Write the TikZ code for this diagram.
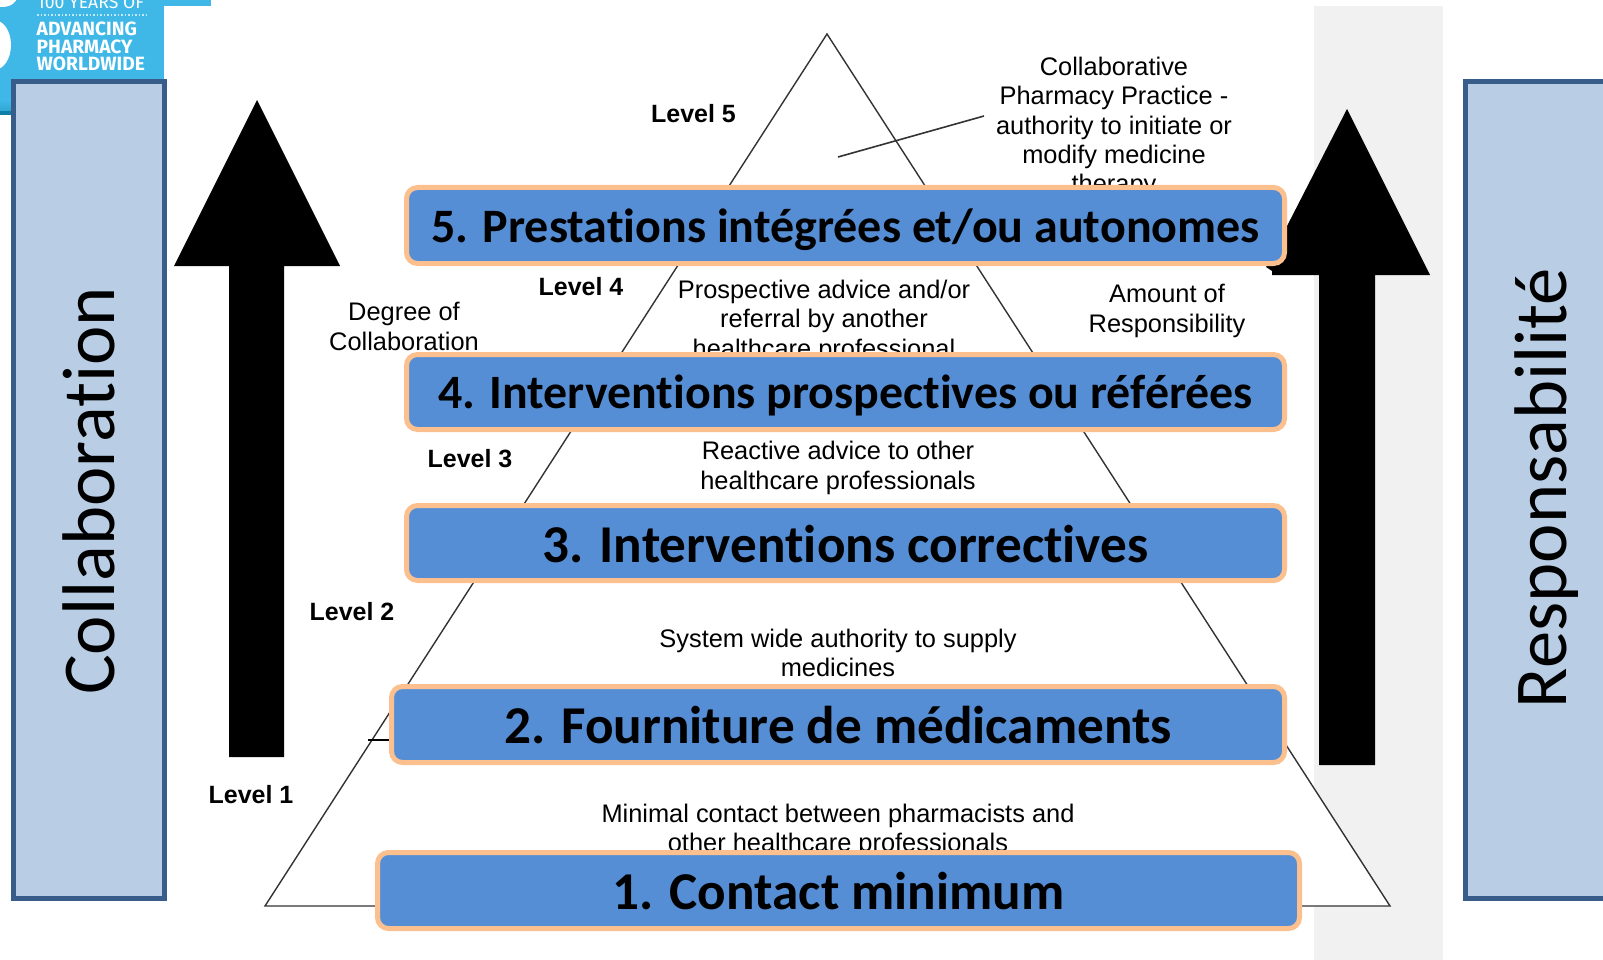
\documentclass[tikz,border=0pt]{standalone}
\usepackage{fontspec}
\setmainfont{Liberation Sans}
\newfontfamily\carl[Ligatures=NoCommon]{Carlito}
\newfontfamily\fira{Fira Sans}
\definecolor{boxfill}{HTML}{558ED5}
\definecolor{boxedge}{HTML}{FCBF8E}
\definecolor{sidefill}{HTML}{B9CDE5}
\definecolor{sideedge}{HTML}{385D8A}
\definecolor{logo}{HTML}{3FB8E8}
\definecolor{logodark}{HTML}{0B7FA6}
\definecolor{band}{HTML}{F1F1F1}
\definecolor{pline}{HTML}{333333}
\tikzset{
  levelbox/.style={draw=boxedge,fill=boxfill,line width=5pt,rounded corners=11pt,inner sep=0pt,anchor=base,text=black,
    font=\carl\bfseries\fontsize{#1}{50}\selectfont},
  sidebox/.style={draw=sideedge,fill=sidefill,line width=5pt},
  sidelabel/.style={rotate=90,anchor=base,inner sep=0pt,text=black,font=\carl\fontsize{74.6}{80}\selectfont},
  levellabel/.style={anchor=base,inner sep=0pt,font=\bfseries\fontsize{25}{29}\selectfont},
  note/.style={anchor=base,inner sep=0pt,align=center,font=\fontsize{25.4}{29.4}\selectfont},
  pyr/.style={draw=pline,line width=1.4pt},
  logotext/.style={anchor=base west,inner sep=0pt,text=white,font=\fira\bfseries\fontsize{19.2}{19}\selectfont},
}
\begin{document}
\begin{tikzpicture}[x=1pt,y=-1pt]
\useasboundingbox (0,0) rectangle (1603,960);
% logo
\begin{scope}
\clip (0,0) rectangle (1603,960);
\fill[logo] (0,0) rectangle (164,103);
\fill[logo] (164,0) rectangle (211,6);
\shade[top color=logo,bottom color=logo!70!logodark] (0,100) rectangle (164,111);
\fill[logodark] (0,111) rectangle (20,115);
\fill[white] (-6,45) ellipse [x radius=17pt,y radius=25pt];
\fill[white] (2,-3) ellipse [x radius=15pt,y radius=10pt];
\node[logotext,font=\fira\fontsize{17.6}{17}\selectfont] (l0) at (37,9) {100 YEARS OF};
\draw[white,opacity=.7,line width=1.5pt,dotted] (37,15) -- (146,15);
\node[logotext] (l1) at (36.5,35.5) {ADVANCING};
\node[logotext] (l2) at (36.5,53.5) {PHARMACY};
\node[logotext] (l3) at (36.5,70.5) {WORLDWIDE};
% grey band
\fill[band] (1314,6) rectangle (1443,960);
% pyramid
\draw[pyr,fill=white] (827,34) coordinate (apex) -- (1390,906) coordinate (br) -- (265,906) coordinate (bl) -- cycle;
\draw[pyr,line width=1.6pt] (838,157) coordinate (c1) -- (984,116) coordinate (c2);
\draw[pyr,draw=black] (368,740) coordinate (t1) -- (392,740) coordinate (t2);
% side boxes
\node[sidebox,minimum width=0pt,inner sep=0pt] (leftbox) at (89,490) {\rule{0pt}{817pt}\rule{151pt}{0pt}};
\fill[sidefill] (1465.5,81.5) rectangle (1610,898.5);
\draw[sideedge,line width=5pt] (1610,81.5) -- (1465.5,81.5) -- (1465.5,898.5) -- (1610,898.5);
\node[sidelabel] (collab) at (114.5,491) {Collaboration};
\node[sidelabel] (resp) at (1566,488) {Responsabilité};
% big arrows
\fill[black] (257,100) -- (340,266) -- (284,266) -- (284,757) -- (229,757) -- (229,266) -- (174,266) -- cycle;
\fill[black] (1347,109) -- (1430,275) -- (1375,275) -- (1375,765) -- (1319,765) -- (1319,275) -- (1272,275) -- (1272,271) -- (1266,267) -- cycle;
\end{scope}
% pyramid notes
\node[levellabel] (lv5) at (693.5,123) {Level 5};
\node[levellabel] (lv4) at (581,295) {Level 4};
\node[levellabel] (lv3) at (470,467) {Level 3};
\node[levellabel] (lv2) at (352,620) {Level 2};
\node[levellabel] (lv1) at (251,803) {Level 1};
\node[note] (n5) at (1114,193) {Collaborative\\Pharmacy Practice -\\authority to initiate or\\modify medicine\\therapy};
\node[note] (n4) at (824,357) {Prospective advice and/or\\referral by another\\healthcare professional};
\node[note] (n3) at (838,489) {Reactive advice to other\\healthcare professionals};
\node[note] (n2) at (838,676.5) {System wide authority to supply\\medicines};
\node[note] (n1) at (838,851.5) {Minimal contact between pharmacists and\\other healthcare professionals};
\node[note] (deg) at (404,350) {Degree of\\Collaboration};
\node[note] (amt) at (1167,332) {Amount of\\Responsibility};
% level boxes
\node[levelbox=48,minimum width=878pt,text height=54.5pt,text depth=21.5pt] (b5) at (845.5,242) {5. Prestations intégrées et/ou autonomes};
\node[levelbox=47.9,minimum width=878pt,text height=53.5pt,text depth=21.5pt] (b4) at (845.5,408) {4. Interventions prospectives ou référées};
\node[levelbox=53.2,minimum width=878pt,text height=56.5pt,text depth=18.5pt] (b3) at (845.5,562) {3. Interventions correctives};
\node[levelbox=53.2,minimum width=893pt,text height=56.5pt,text depth=19.5pt] (b2) at (838,743) {2. Fourniture de médicaments};
\node[levelbox=53.2,minimum width=922pt,text height=56.5pt,text depth=19.5pt] (b1) at (838.5,909) {1. Contact minimum};
\end{tikzpicture}
\end{document}
